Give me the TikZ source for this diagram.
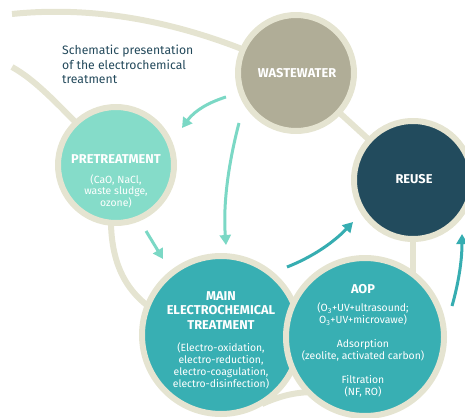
\documentclass[tikz,border=0pt]{standalone}
\usepackage{fontspec}
\setmainfont{Fira Sans}
\usetikzlibrary{arrows.meta}
\definecolor{ring}{HTML}{E5E4D1}
\definecolor{wwc}{HTML}{B0AD97}
\definecolor{prec}{HTML}{85DCC9}
\definecolor{reusec}{HTML}{224B5D}
\definecolor{mainc}{HTML}{38AFB3}
\definecolor{mint}{HTML}{7BD8C5}
\definecolor{tealc}{HTML}{36ADB1}
\definecolor{titlec}{HTML}{23495B}
\tikzset{
 ring/.style={circle, draw=ring, line width=6pt, inner sep=0pt, outer sep=0pt},
 band/.style={draw=ring, line width=6pt},
 lab/.style={text=white, font=\bfseries\fontsize{12.8}{14.5}\selectfont, align=center, inner sep=0pt},
 sub/.style={text=white, font=\fontsize{10.4}{12}\selectfont, align=center, inner sep=0pt},
 arr/.style={line width=3pt, -{Triangle[length=10pt,width=11pt]}},
}
\begin{document}
\begin{tikzpicture}[x=1pt,y=-1pt]
\useasboundingbox (0,0) rectangle (465,417);
\clip (0,0) rectangle (465,417);
% named coordinates
\coordinate (ww) at (296,73);
\coordinate (b1s) at (12,14);
\coordinate (b2s) at (12,67);
\coordinate (b5e) at (413,300);
% background bands
\draw[band] (b1s) .. controls (90,6) and (185,18) .. (ww);
\draw[band] (b2s) .. controls (35,80) and (55,100) .. (116,165);
\draw[band] (116,165) .. controls (100,260) and (118,315) .. (221,335);
\draw[band] (ww) -- (413,180);
\draw[band] (413,180) -- (b5e);
\draw[band] (262,404) .. controls (280,396) and (295,392) .. (315,392);
% circles
\node[ring, fill=wwc, minimum size=116pt] (wwn) at (ww) {};
\node[ring, fill=prec, minimum size=116pt] (pre) at (116,165) {};
\node[ring, fill=reusec, minimum size=118pt] (reuse) at (413,180) {};
\node[ring, fill=mainc, minimum size=158pt] (main) at (221,335) {};
\node[ring, fill=mainc, minimum size=158pt] (aop) at (365,337) {};
% texts
\node[lab] (wwt) at (297,73) {WASTEWATER};
\node[lab] (pret) at (116,159) {PRETREATMENT};
\node[sub, font=\fontsize{10.4}{10.6}\selectfont] (pres) at (116,191.5) {(CaO, NaCl,\\waste sludge,\\ozone)};
\node[lab] (reuset) at (414,179) {REUSE};
\node[lab] (maint) at (221,310.5) {MAIN\\ELECTROCHEMICAL\\TREATMENT};
\node[sub] (mains) at (221,365.5) {(Electro-oxidation,\\electro-reduction,\\electro-coagulation,\\electro-disinfection)};
\node[lab] (aopt) at (363,289) {AOP};
\node[sub] (aops1) at (363,314) {(O\textsubscript{3}+UV+ultrasound;\\O\textsubscript{3}+UV+microvawe)};
\node[sub] (aops2) at (363,350) {Adsorption\\(zeolite, activated carbon)};
\node[sub] (aops3) at (363,386.5) {Filtration\\(NF, RO)};
\node[text=titlec, font=\fontsize{12.2}{14.5}\selectfont, align=left, anchor=west, inner sep=0pt] (title) at (62,64.5) {Schematic presentation\\of the electrochemical\\treatment};
% arrows
\coordinate (a1s) at (226,97);
\coordinate (a1e) at (182,128);
\coordinate (a2s) at (239,123);
\coordinate (a2e) at (226,245);
\coordinate (a3s) at (146,231);
\coordinate (a3e) at (163,259);
\coordinate (a4s) at (287,267);
\coordinate (a4e) at (353,222);
\coordinate (a5s) at (452,306);
\coordinate (a5e) at (462,234);
\draw[arr, mint] (a1s) .. controls (210,102) and (195,110) .. (a1e);
\draw[arr, mint] (a2s) .. controls (228,165) and (223,205) .. (a2e);
\draw[arr, mint] (a3s) -- (a3e);
\draw[arr, tealc] (a4s) .. controls (310,258) and (332,244) .. (a4e);
\draw[arr, tealc] (a5s) .. controls (458,285) and (462,262) .. (a5e);
\end{tikzpicture}
\end{document}
